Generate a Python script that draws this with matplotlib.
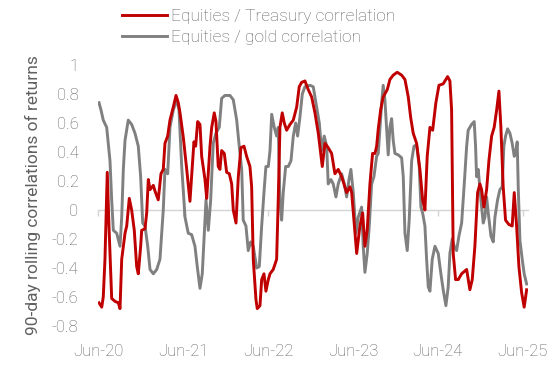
import matplotlib
matplotlib.use("Agg")
import matplotlib.pyplot as plt
import numpy as np

# ---- data ----
# x: years elapsed since Jun-2020
treasury_t = [0.012, 0.044, 0.062, 0.082, 0.109, 0.129, 0.161, 0.200, 0.239, 0.259,
              0.279, 0.318, 0.338, 0.368, 0.396, 0.427, 0.455, 0.474, 0.502, 0.514,
              0.553, 0.573, 0.592, 0.612, 0.651, 0.671, 0.709, 0.741, 0.768, 0.788,
              0.820, 0.847, 0.886, 0.918, 0.945, 0.965, 1.004, 1.044, 1.082, 1.114,
              1.129, 1.149, 1.173, 1.200, 1.220, 1.259, 1.279, 1.318, 1.338, 1.368,
              1.388, 1.415, 1.435, 1.455, 1.486, 1.514, 1.545, 1.573, 1.592, 1.624,
              1.651, 1.682, 1.718, 1.749, 1.788, 1.808, 1.827, 1.859, 1.874, 1.906,
              1.926, 1.953, 1.976, 2.004, 2.024, 2.062, 2.102, 2.121, 2.141, 2.168,
              2.192, 2.220, 2.259, 2.298, 2.338, 2.368, 2.396, 2.435, 2.474, 2.514,
              2.553, 2.592, 2.624, 2.639, 2.671, 2.709, 2.749, 2.788, 2.827, 2.867,
              2.926, 2.965, 2.985, 3.012, 3.044, 3.082, 3.114, 3.141, 3.168, 3.200,
              3.231, 3.259, 3.279, 3.298, 3.326, 3.356, 3.404, 3.435, 3.474, 3.521,
              3.573, 3.612, 3.651, 3.679, 3.709, 3.749, 3.788, 3.820, 3.847, 3.874,
              3.906, 3.938, 3.976, 4.012, 4.062, 4.114, 4.141, 4.161, 4.180, 4.208,
              4.239, 4.279, 4.338, 4.376, 4.404, 4.435, 4.467, 4.494, 4.514, 4.541,
              4.573, 4.600, 4.632, 4.662, 4.691, 4.718, 4.741, 4.768, 4.796, 4.835,
              4.874, 4.898, 4.926, 4.953, 4.985, 5.015, 5.044]
treasury_corr = [-0.64, -0.67, -0.60, -0.34, 0.26, -0.11, -0.61, -0.63, -0.64, -0.68,
                 -0.34, -0.16, -0.11, 0.08, 0.00, -0.14, -0.39, -0.44, -0.25, -0.14,
                 -0.13, -0.02, 0.21, 0.14, 0.17, 0.13, 0.07, 0.25, 0.28, 0.46,
                 0.51, 0.62, 0.71, 0.79, 0.74, 0.67, 0.50, 0.28, 0.06, 0.34,
                 0.47, 0.44, 0.61, 0.59, 0.37, 0.21, 0.08, 0.44, 0.57, 0.67,
                 0.61, 0.30, 0.28, 0.41, 0.39, 0.26, 0.25, 0.18, 0.00, -0.09,
                 0.23, 0.43, 0.44, 0.37, 0.30, 0.16, -0.34, -0.62, -0.68, -0.66,
                 -0.48, -0.44, -0.56, -0.48, -0.44, -0.41, -0.34, 0.07, 0.57, 0.67,
                 0.60, 0.55, 0.59, 0.62, 0.71, 0.85, 0.88, 0.89, 0.83, 0.78,
                 0.67, 0.53, 0.37, 0.30, 0.46, 0.43, 0.39, 0.25, 0.28, 0.23,
                 0.12, 0.16, 0.12, -0.07, -0.30, -0.11, -0.02, -0.25, -0.14, 0.18,
                 0.39, 0.39, 0.44, 0.56, 0.69, 0.78, 0.83, 0.90, 0.93, 0.95,
                 0.93, 0.90, 0.78, 0.64, 0.53, 0.46, 0.28, 0.07, 0.00, 0.37,
                 0.57, 0.55, 0.74, 0.86, 0.87, 0.92, 0.89, 0.69, -0.30, -0.48,
                 -0.48, -0.44, -0.41, -0.55, -0.48, -0.25, 0.12, 0.18, 0.14, 0.02,
                 0.14, 0.34, 0.51, 0.57, 0.69, 0.82, 0.57, 0.16, -0.07, -0.10,
                 -0.11, 0.12, -0.11, -0.39, -0.57, -0.67, -0.55]

gold_t = [0.012, 0.035, 0.062, 0.102, 0.121, 0.141, 0.161, 0.180, 0.220, 0.259,
          0.279, 0.298, 0.318, 0.356, 0.396, 0.435, 0.474, 0.502, 0.526, 0.553,
          0.585, 0.612, 0.651, 0.691, 0.729, 0.768, 0.788, 0.820, 0.847, 0.886,
          0.926, 0.953, 0.985, 1.024, 1.062, 1.102, 1.141, 1.168, 1.200, 1.227,
          1.251, 1.271, 1.298, 1.326, 1.356, 1.388, 1.427, 1.455, 1.494, 1.553,
          1.592, 1.632, 1.662, 1.691, 1.709, 1.741, 1.768, 1.796, 1.827, 1.867,
          1.898, 1.926, 1.953, 1.976, 2.004, 2.024, 2.044, 2.074, 2.102, 2.121,
          2.141, 2.161, 2.180, 2.208, 2.239, 2.271, 2.298, 2.326, 2.349, 2.376,
          2.404, 2.435, 2.494, 2.533, 2.573, 2.604, 2.632, 2.662, 2.691, 2.709,
          2.741, 2.768, 2.800, 2.827, 2.867, 2.898, 2.926, 2.953, 2.976, 3.004,
          3.035, 3.062, 3.102, 3.121, 3.141, 3.168, 3.192, 3.220, 3.247, 3.279,
          3.298, 3.318, 3.338, 3.356, 3.376, 3.396, 3.415, 3.435, 3.455, 3.474,
          3.494, 3.533, 3.573, 3.592, 3.612, 3.639, 3.662, 3.691, 3.718, 3.749,
          3.780, 3.800, 3.820, 3.847, 3.867, 3.886, 3.906, 3.933, 3.965, 4.004,
          4.035, 4.062, 4.094, 4.121, 4.141, 4.168, 4.192, 4.220, 4.247, 4.279,
          4.310, 4.338, 4.356, 4.396, 4.427, 4.443, 4.455, 4.474, 4.506, 4.533,
          4.553, 4.573, 4.592, 4.624, 4.651, 4.671, 4.702, 4.729, 4.756, 4.776,
          4.796, 4.820, 4.847, 4.874, 4.898, 4.914, 4.933, 4.945, 4.965, 4.992,
          5.015, 5.044]
gold_corr = [0.74, 0.69, 0.62, 0.57, 0.46, 0.34, 0.07, -0.14, -0.16, -0.25,
             -0.05, 0.28, 0.48, 0.62, 0.59, 0.53, 0.44, 0.23, -0.09, -0.11,
             -0.25, -0.41, -0.44, -0.41, -0.34, 0.00, 0.28, 0.25, 0.57, 0.69,
             0.76, 0.69, 0.30, -0.05, -0.16, -0.17, -0.25, -0.39, -0.54, -0.44,
             -0.16, 0.07, -0.14, 0.07, 0.46, 0.53, 0.57, 0.77, 0.79, 0.79,
             0.76, 0.62, 0.44, 0.28, -0.07, -0.11, -0.28, -0.22, -0.25, -0.40,
             -0.39, -0.11, 0.12, 0.30, 0.30, 0.41, 0.66, 0.57, 0.51, 0.57,
             0.07, -0.07, 0.12, 0.30, 0.30, 0.34, 0.51, 0.60, 0.51, 0.64,
             0.80, 0.85, 0.86, 0.85, 0.71, 0.60, 0.41, 0.51, 0.44, 0.18,
             0.21, 0.18, 0.09, 0.18, 0.25, 0.18, 0.09, 0.21, 0.28, 0.12,
             -0.16, -0.05, 0.02, -0.25, -0.43, -0.30, -0.11, 0.18, 0.23, 0.37,
             0.39, 0.57, 0.74, 0.86, 0.76, 0.57, 0.38, 0.57, 0.63, 0.48,
             0.39, 0.38, 0.36, 0.23, -0.16, -0.28, -0.07, 0.34, 0.44, 0.45,
             0.30, 0.02, -0.02, -0.11, -0.34, -0.53, -0.56, -0.34, -0.25, -0.30,
             -0.44, -0.55, -0.66, -0.53, -0.30, -0.20, -0.25, -0.28, -0.18, -0.09,
             0.18, 0.44, 0.55, 0.59, 0.61, 0.44, 0.23, 0.28, 0.07, -0.09,
             -0.05, 0.09, -0.02, -0.18, -0.22, -0.05, 0.07, 0.14, 0.16, 0.44,
             0.51, 0.56, 0.53, 0.46, 0.37, 0.39, 0.47, 0.16, -0.21, -0.34,
             -0.44, -0.51]

x_tick_labels = ["Jun-20", "Jun-21", "Jun-22", "Jun-23", "Jun-24", "Jun-25"]
y_ticks = [-0.8, -0.6, -0.4, -0.2, 0, 0.2, 0.4, 0.6, 0.8, 1]
y_tick_labels = ["-0.8", "-0.6", "-0.4", "-0.2", "0", "0.2", "0.4", "0.6", "0.8", "1"]
series_names = ["Equities / Treasury correlation", "Equities / gold correlation"]

# ---- style ----
RED = "#c00000"
GREY = "#808080"
TEXT = "#606060"
plt.rcParams["font.family"] = ["Roboto", "DejaVu Sans"]
plt.rcParams["font.weight"] = "light"

W, H = 555, 377
fig = plt.figure(figsize=(W / 100, H / 100), dpi=100)
ax = fig.add_axes([98 / W, 1 - 326 / H, 430 / W, 261 / H])

l1, = ax.plot(treasury_t, treasury_corr, color=RED, lw=2.1, solid_joinstyle="round", zorder=3)
l2, = ax.plot(gold_t, gold_corr, color=GREY, lw=2.1, solid_joinstyle="round", zorder=2)

ymin, ymax = -0.8, 1.0
ax.set_ylim(ymin, ymax)
ax.set_xlim(0, 5.06)

for s in ax.spines.values():
    s.set_visible(False)

ax.set_yticks(y_ticks)
ax.set_yticklabels(y_tick_labels)
ax.set_xticks(range(len(x_tick_labels)))
ax.set_xticklabels(x_tick_labels)
ax.tick_params(axis="both", length=0, labelsize=12, labelcolor=TEXT)
ax.tick_params(axis="x", pad=13)
ax.tick_params(axis="y", pad=14)

# zero line with small year ticks
zero_pos = (0 - ymin) / (ymax - ymin)
sec = ax.secondary_xaxis(zero_pos)
sec.set_xticks(range(len(x_tick_labels)))
sec.set_xticklabels([])
sec.spines["bottom"].set_color("#d4d4d4")
sec.spines["bottom"].set_linewidth(1.0)
sec.tick_params(axis="x", length=4, width=1, color="#d4d4d4", direction="out")

ax.set_ylabel("90-day rolling correlations of returns", fontsize=12.5, color=TEXT, labelpad=8)

fig.legend([l1, l2], series_names, loc="upper left",
           bbox_to_anchor=(122 / W, 1 - 9 / H), frameon=False,
           fontsize=12.5, labelcolor=TEXT, handlelength=2.6, handletextpad=0.2,
           labelspacing=0.32, borderpad=0, borderaxespad=0)

fig.savefig("out.png", dpi=100)
